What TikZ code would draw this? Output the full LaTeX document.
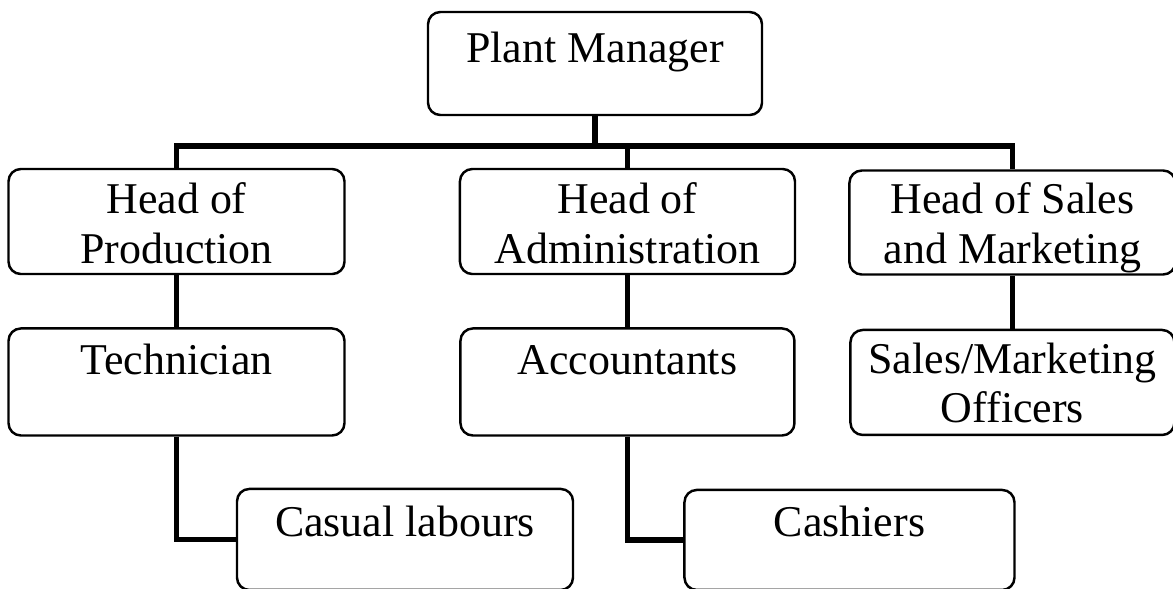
\documentclass[tikz,border=0pt]{standalone}
\usepackage{fontspec}
\setmainfont{Liberation Serif}
\usetikzlibrary{
    positioning,
    calc
}

\begin{document}
\begin{tikzpicture}[
        every node/.style={font=\fontsize{12.5}{14.2}\selectfont},
        post/.style={
            rectangle,
            rounded corners=3.5pt,
            draw=black,
            line width=0.7pt,
            minimum width=3.36cm,
            inner sep=0pt,
            align=center
        },
        link/.style={line width=1.6pt,draw=black}
    ]
        \path[use as bounding box,fill=white] (0,0) rectangle (11.73,-5.88);

        % Top of the chart
        \node[post, minimum width=3.34cm, text height=0.50cm, text depth=0.53cm]
            (manager) at (5.95,-0.635) {Plant Manager};

        % Heads of department
        \node[post, text height=0.94cm, text depth=0.11cm]
            (headprod) at (1.765,-2.215) {Head of\\Production};
        \node[post, minimum width=3.35cm, text height=0.94cm, text depth=0.11cm,
            right=1.13cm of headprod] (headadmin) {Head of\\Administration};
        \node[post, minimum width=3.26cm, text height=0.93cm, text depth=0.11cm,
            right=0.52cm of headadmin, yshift=-0.01cm] (headsales)
            {Head of Sales\\and Marketing};

        \coordinate (bus) at ($(manager.south)+(0,-0.30)$);
        \draw[link] (manager.south) -- (bus);
        \draw[link] (headprod.north) |- (bus) -| (headsales.north);
        \draw[link] (headadmin.north) -- (headadmin.north |- bus);

        % Staff under each head
        \node[post, text height=0.46cm, text depth=0.61cm,
            below=0.52cm of headprod] (technician) {Technician};
        \node[post, minimum width=3.34cm, text height=0.46cm, text depth=0.61cm,
            below=0.52cm of headadmin] (accountants) {Accountants};
        \node[post, minimum width=3.24cm, text height=0.93cm, text depth=0.12cm,
            below=0.53cm of headsales] (officers) {Sales/Marketing\\Officers};

        \draw[link] (headprod) -- (technician);
        \draw[link] (headadmin) -- (accountants);
        \draw[link] (headsales) -- (officers);

        % Bottom row
        \node[post, text height=0.48cm, text depth=0.53cm,
            below=0.51cm of technician, xshift=2.285cm] (casual) {Casual labours};
        \node[post, minimum width=3.30cm, text height=0.47cm, text depth=0.53cm,
            below=0.52cm of accountants, xshift=2.22cm] (cashiers) {Cashiers};

        \draw[link] (technician.south) |- (casual.west);
        \draw[link] (accountants.south) |- (cashiers.west);
    \end{tikzpicture}
\end{document}
